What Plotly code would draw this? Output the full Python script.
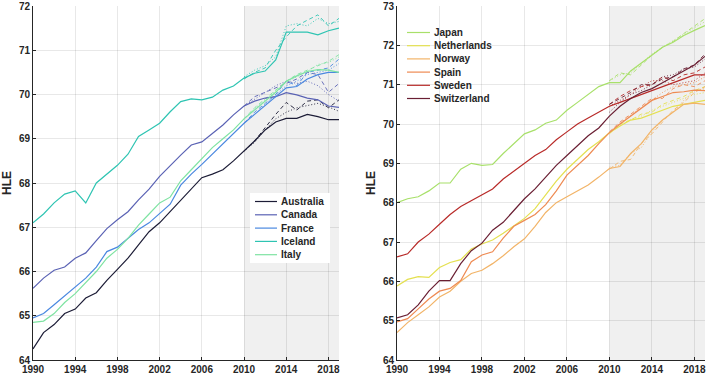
import plotly.graph_objects as go

W, H = 708, 378

years = list(range(1990, 2020))
proj_years = list(range(2010, 2020))

# ---------------- Left panel data ----------------
left_countries = ["Australia", "Canada", "France", "Iceland", "Italy"]
left_colors = ["#1c1c36", "#5a62b4", "#4a88e0", "#2ec4b2", "#7ee3a2"]

australia = [64.25, 64.62, 64.8, 65.05, 65.15, 65.4, 65.52, 65.8, 66.05, 66.3,
             66.6, 66.9, 67.1, 67.35, 67.6, 67.85, 68.12, 68.2, 68.3, 68.5,
             68.72, 68.95, 69.2, 69.38, 69.46, 69.46, 69.55, 69.5, 69.43, 69.43]
canada = [65.62, 65.85, 66.03, 66.1, 66.3, 66.42, 66.7, 66.97, 67.17, 67.35,
          67.62, 67.86, 68.15, 68.4, 68.63, 68.86, 68.93, 69.12, 69.31, 69.54,
          69.74, 69.85, 69.92, 69.95, 70.04, 69.99, 69.92, 69.88, 69.74, 69.71]
france = [64.95, 65.05, 65.25, 65.45, 65.65, 65.85, 66.1, 66.45, 66.55, 66.75,
          66.95, 67.1, 67.3, 67.52, 67.95, 68.2, 68.42, 68.65, 68.9, 69.12,
          69.35, 69.55, 69.75, 69.95, 70.15, 70.18, 70.35, 70.45, 70.5, 70.5]
iceland = [67.1, 67.3, 67.55, 67.75, 67.82, 67.55, 68.0, 68.2, 68.4, 68.65,
           69.05, 69.2, 69.35, 69.61, 69.84, 69.9, 69.88, 69.94, 70.1, 70.19,
           70.37, 70.48, 70.53, 70.78, 71.41, 71.41, 71.41, 71.35, 71.44, 71.5]
italy = [64.85, 64.88, 65.05, 65.3, 65.5, 65.75, 66.0, 66.3, 66.5, 66.75,
         67.05, 67.3, 67.55, 67.68, 68.05, 68.3, 68.55, 68.8, 69.0, 69.2,
         69.45, 69.65, 69.85, 70.05, 70.3, 70.42, 70.52, 70.56, 70.55, 70.5]

australia_dash = [68.72, 68.95, 69.25, 69.55, 69.82, 69.65, 69.85, 69.88, 69.7, 69.88]
australia_dot = [68.72, 68.92, 69.2, 69.45, 69.6, 69.7, 69.75, 69.8, 69.72, 69.62]
canada_dash = [69.74, 69.95, 70.05, 70.15, 70.25, 70.35, 70.5, 70.45, 70.05, 70.25]
canada_dot = [69.74, 69.9, 70.05, 70.2, 70.3, 70.25, 70.3, 70.2, 70.0, 69.85]
france_dash = [69.35, 69.6, 69.8, 70.0, 70.3, 70.2, 70.5, 70.55, 70.6, 70.8]
france_dot = [69.35, 69.55, 69.78, 70.0, 70.2, 70.3, 70.45, 70.5, 70.55, 70.7]
iceland_dash = [70.35, 70.5, 70.6, 71.0, 71.3, 71.55, 71.68, 71.8, 71.55, 71.72]
iceland_dot = [70.4, 70.55, 70.65, 70.85, 71.55, 71.6, 71.55, 71.72, 71.6, 71.65]
italy_dash = [69.45, 69.7, 69.9, 70.1, 70.3, 70.45, 70.55, 70.65, 70.75, 70.9]
italy_dot = [69.45, 69.68, 69.88, 70.08, 70.28, 70.4, 70.52, 70.68, 70.72, 70.85]

left_solid = [australia, canada, france, iceland, italy]
left_dash = [australia_dash, canada_dash, france_dash, iceland_dash, italy_dash]
left_dot = [australia_dot, canada_dot, france_dot, iceland_dot, italy_dot]

# ---------------- Right panel data ----------------
right_countries = ["Japan", "Netherlands", "Norway", "Spain", "Sweden", "Switzerland"]
right_colors = ["#a8e06a", "#e4e050", "#f2b468", "#ee8a52", "#b82a28", "#6a1f33"]

japan = [68.0, 68.1, 68.15, 68.3, 68.5, 68.5, 68.85, 69.0, 68.95, 68.97,
         69.25, 69.5, 69.75, 69.85, 70.02, 70.1, 70.35, 70.55, 70.75, 70.95,
         71.05, 71.05, 71.35, 71.55, 71.75, 71.95, 72.08, 72.25, 72.38, 72.5]
netherlands = [65.88, 66.05, 66.12, 66.1, 66.35, 66.48, 66.55, 66.82, 66.95, 67.05,
               67.22, 67.4, 67.6, 67.85, 68.2, 68.55, 68.85, 69.1, 69.35, 69.55,
               69.78, 69.95, 70.1, 70.15, 70.25, 70.35, 70.45, 70.5, 70.55, 70.6]
norway = [64.7, 64.95, 65.15, 65.35, 65.6, 65.75, 66.0, 66.2, 66.28, 66.45,
          66.65, 66.88, 67.08, 67.4, 67.75, 68.0, 68.15, 68.3, 68.45, 68.65,
          68.87, 68.92, 69.25, 69.5, 69.85, 70.1, 70.3, 70.5, 70.53, 70.5]
spain = [64.97, 65.05, 65.3, 65.55, 65.75, 65.82, 66.02, 66.5, 66.67, 66.75,
         67.1, 67.4, 67.55, 67.7, 67.95, 68.3, 68.7, 68.95, 69.2, 69.5,
         69.78, 70.0, 70.2, 70.4, 70.6, 70.7, 70.8, 70.82, 70.86, 70.85]
sweden = [66.62, 66.7, 67.0, 67.2, 67.45, 67.7, 67.9, 68.05, 68.2, 68.35,
          68.6, 68.8, 69.0, 69.2, 69.35, 69.6, 69.8, 70.0, 70.15, 70.3,
          70.45, 70.55, 70.65, 70.75, 70.85, 70.95, 71.05, 71.15, 71.25, 71.25]
switzerland = [65.07, 65.15, 65.4, 65.75, 66.02, 66.02, 66.45, 66.78, 66.97, 67.3,
               67.5, 67.8, 68.1, 68.35, 68.65, 68.95, 69.2, 69.45, 69.7, 69.9,
               70.2, 70.45, 70.65, 70.8, 70.9, 71.05, 71.2, 71.35, 71.5, 71.72]

japan_dash = [71.1, 71.3, 71.25, 71.5, 71.75, 71.95, 72.1, 72.3, 72.5, 72.68]
japan_dot = [71.1, 71.25, 71.3, 71.55, 71.78, 71.95, 72.12, 72.3, 72.45, 72.6]
netherlands_dash = [69.75, 70.0, 70.1, 70.25, 70.3, 70.5, 70.6, 70.7, 70.85, 70.95]
netherlands_dot = [69.78, 69.95, 70.12, 70.2, 70.35, 70.45, 70.55, 70.65, 70.75, 70.8]
norway_dash = [68.85, 69.05, 69.1, 69.5, 69.75, 70.05, 70.35, 70.55, 70.8, 70.95]
norway_dot = [68.9, 68.95, 69.25, 69.4, 69.8, 70.1, 70.3, 70.6, 70.85, 70.9]
spain_dash = [69.8, 70.05, 70.25, 70.45, 70.65, 70.65, 70.9, 71.0, 70.95, 71.1]
spain_dot = [69.78, 70.02, 70.22, 70.42, 70.62, 70.8, 70.95, 71.0, 71.05, 71.2]
sweden_dash = [70.5, 70.7, 70.85, 70.95, 71.0, 71.2, 71.1, 71.25, 71.3, 71.45]
sweden_dot = [70.45, 70.6, 70.75, 70.95, 71.1, 71.1, 71.0, 71.05, 71.1, 71.3]
switzerland_dash = [70.5, 70.65, 70.8, 71.0, 71.0, 71.15, 71.2, 71.4, 71.5, 71.78]
switzerland_dot = [70.3, 70.55, 70.75, 70.85, 71.0, 71.2, 71.25, 71.4, 71.45, 71.65]

right_solid = [japan, netherlands, norway, spain, sweden, switzerland]
right_dash = [japan_dash, netherlands_dash, norway_dash, spain_dash, sweden_dash, switzerland_dash]
right_dot = [japan_dot, netherlands_dot, norway_dot, spain_dot, sweden_dot, switzerland_dot]

x_ticks = [1990, 1994, 1998, 2002, 2006, 2010, 2014, 2018]
left_y_ticks = list(range(64, 73))
right_y_ticks = list(range(64, 74))
shade_start, x_end = 2010, 2019

# ---------------- Figure ----------------
fig = go.Figure()

def add_panel(xa, ya, solids, dashes, dots, colors):
    for s, d, o, c in zip(solids, dashes, dots, colors):
        fig.add_trace(go.Scatter(x=proj_years, y=d, mode="lines", xaxis=xa, yaxis=ya,
                                 line=dict(color=c, width=0.9, dash="4px,3px"),
                                 showlegend=False, hoverinfo="skip"))
        fig.add_trace(go.Scatter(x=proj_years, y=o, mode="lines", xaxis=xa, yaxis=ya,
                                 line=dict(color=c, width=0.9, dash="1px,2px"),
                                 showlegend=False, hoverinfo="skip"))
    for s, c in zip(solids, colors):
        fig.add_trace(go.Scatter(x=years, y=s, mode="lines", xaxis=xa, yaxis=ya,
                                 line=dict(color=c, width=1.2),
                                 showlegend=False, hoverinfo="skip"))

add_panel("x", "y", left_solid, left_dash, left_dot, left_colors)
add_panel("x2", "y2", right_solid, right_dash, right_dot, right_colors)

font_main = "Liberation Sans, Arial, sans-serif"
tick_font = dict(family=font_main, size=10, color="#262626", weight="bold")

def xaxis_cfg(domain, anchor):
    return dict(domain=domain, anchor=anchor, range=[1990, x_end], tickvals=x_ticks,
                showgrid=True, gridcolor="rgba(0,0,0,0.09)", gridwidth=1,
                zeroline=False, showline=True, linecolor="#262626", linewidth=1,
                ticks="inside", ticklen=3, tickcolor="#262626", automargin=False,
                tickfont=tick_font, fixedrange=True)

def yaxis_cfg(domain, anchor, rng, tv):
    return dict(domain=domain, anchor=anchor, range=rng, tickvals=tv,
                showgrid=True, gridcolor="rgba(0,0,0,0.09)", gridwidth=1,
                zeroline=False, showline=True, linecolor="#262626", linewidth=1,
                ticks="inside", ticklen=3, tickcolor="#262626", automargin=False,
                tickfont=tick_font, fixedrange=True,
                title=dict(text="HLE", font=dict(family=font_main, size=12,
                                                  color="#262626", weight="bold"),
                           standoff=4))

yd = [1 - 360 / H, 1 - 6 / H]
fig.update_layout(
    width=W, height=H, margin=dict(l=0, r=0, t=0, b=0),
    paper_bgcolor="white", plot_bgcolor="white", showlegend=False,
    xaxis=xaxis_cfg([33 / W, 339 / W], "y"),
    yaxis=yaxis_cfg(yd, "x", [64, 72], left_y_ticks),
    xaxis2=xaxis_cfg([397 / W, 705 / W], "y2"),
    yaxis2=yaxis_cfg(yd, "x2", [64, 73], right_y_ticks),
)

shapes = []
for xr, yr in [("x", "y domain"), ("x2", "y2 domain")]:
    shapes.append(dict(type="rect", xref=xr, yref=yr, x0=shade_start, x1=x_end,
                       y0=0, y1=1, fillcolor="#f0f0f0", line=dict(width=0),
                       layer="below"))

annotations = []

def px(x):
    return x / W

def py(y):
    return 1 - y / H

# Left legend (white box, no border)
shapes.append(dict(type="rect", xref="paper", yref="paper", x0=px(250), x1=px(330),
                   y0=py(263), y1=py(193), fillcolor="white", line=dict(width=0),
                   layer="above"))

def add_legend(names, colors, x0, x1, xt, y0, dy):
    for i, (n, c) in enumerate(zip(names, colors)):
        yy = y0 + i * dy
        shapes.append(dict(type="line", xref="paper", yref="paper", x0=px(x0), x1=px(x1),
                           y0=py(yy), y1=py(yy), line=dict(color=c, width=1.2),
                           layer="above"))
        annotations.append(dict(text=n, xref="paper", yref="paper", x=px(xt), y=py(yy),
                                xanchor="left", yanchor="middle", showarrow=False,
                                font=dict(family=font_main, size=10, color="#262626",
                                          weight="bold")))

add_legend(left_countries, left_colors, 255, 277, 279, 201.5, 13.3)
add_legend(right_countries, right_colors, 407, 430, 432, 32.5, 13.2)

fig.update_layout(shapes=shapes, annotations=annotations)

fig.write_html("out.html", config={"displayModeBar": False, "staticPlot": True},
               post_script="document.body.style.margin='0';document.body.style.overflow='hidden';")
